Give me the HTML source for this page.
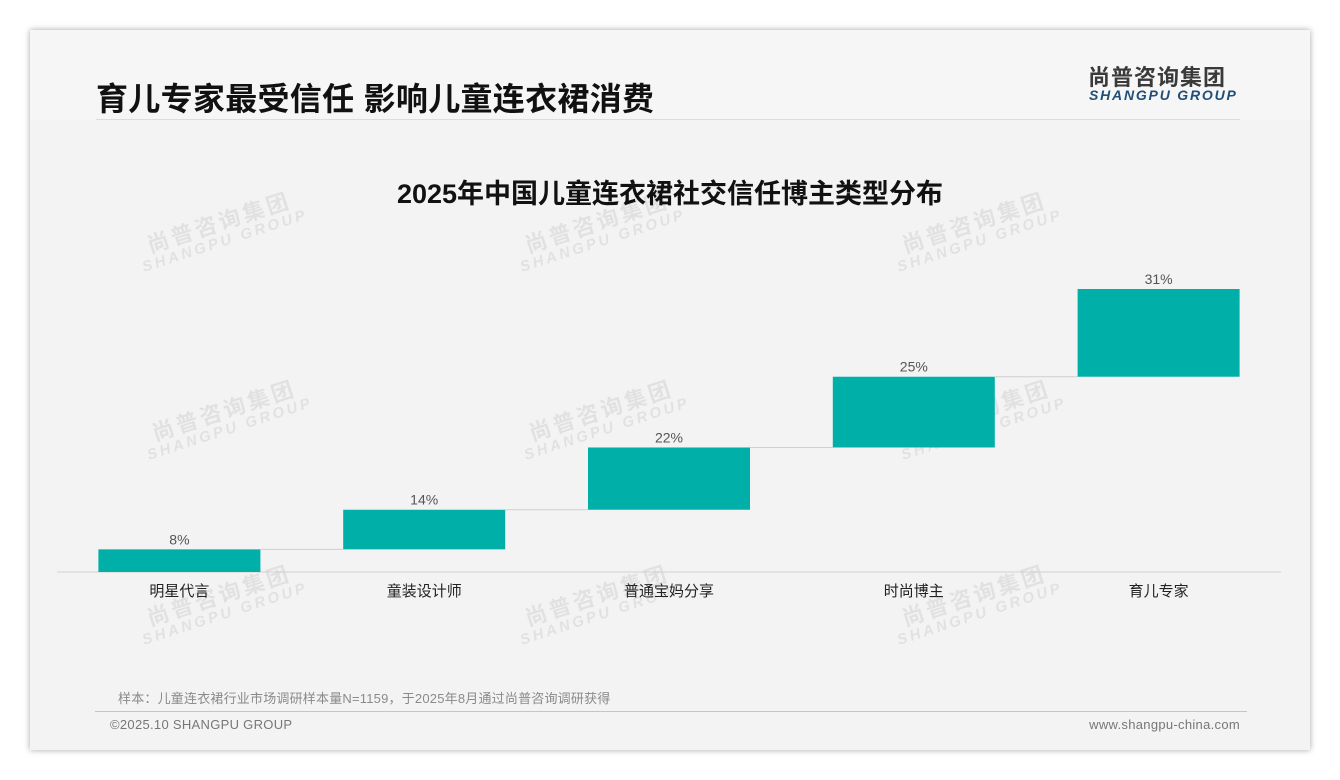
<!DOCTYPE html>
<html><head><meta charset="utf-8"><style>
html,body{margin:0;padding:0;background:#fff;width:1340px;height:780px;overflow:hidden;font-family:"Liberation Sans","Noto Sans CJK SC",sans-serif;}
#card{position:absolute;left:30px;top:30px;width:1280px;height:720px;background:#f3f3f3;box-shadow:0 0 6px rgba(0,0,0,0.35);overflow:hidden;}
#hdr{position:absolute;left:0;top:0;width:1280px;height:90px;background:#f6f6f6;}
.t{position:absolute;white-space:nowrap;}
.wm{position:absolute;transform:rotate(-18deg);color:rgba(0,0,0,0.07);font-weight:bold;line-height:1;text-align:center;}
.wm .a{font-size:22px;letter-spacing:3px;}
.wm .b{font-size:15px;letter-spacing:3px;font-style:italic;}
</style></head><body>
<div id="card">
<div id="hdr"></div>
<div class="t" style="left:66px;top:44px;font-size:32px;letter-spacing:0.3px;font-weight:bold;color:#111;">育儿专家最受信任 影响儿童连衣裙消费</div>
<div class="t" style="left:1058px;top:30px;font-size:22px;font-weight:bold;color:#3a3a3a;letter-spacing:1px;">尚普咨询集团</div>
<div class="t" style="left:1059px;top:57px;font-size:14px;font-weight:bold;font-style:italic;color:#1f4e79;letter-spacing:1.8px;">SHANGPU GROUP</div>
<div class="t" style="left:66px;top:89px;width:1144px;height:1px;background:#dcdcdc;"></div>
<div class="t" style="left:0;width:1280px;text-align:center;top:142px;font-size:27px;font-weight:bold;color:#111;">2025年中国儿童连衣裙社交信任博主类型分布</div>

<div class="wm" style="left:105px;top:182px"><div class="a">尚普咨询集团</div><div class="b">SHANGPU GROUP</div></div>
<div class="wm" style="left:483px;top:182px"><div class="a">尚普咨询集团</div><div class="b">SHANGPU GROUP</div></div>
<div class="wm" style="left:860px;top:182px"><div class="a">尚普咨询集团</div><div class="b">SHANGPU GROUP</div></div>
<div class="wm" style="left:110px;top:370px"><div class="a">尚普咨询集团</div><div class="b">SHANGPU GROUP</div></div>
<div class="wm" style="left:487px;top:370px"><div class="a">尚普咨询集团</div><div class="b">SHANGPU GROUP</div></div>
<div class="wm" style="left:864px;top:370px"><div class="a">尚普咨询集团</div><div class="b">SHANGPU GROUP</div></div>
<div class="wm" style="left:105px;top:555px"><div class="a">尚普咨询集团</div><div class="b">SHANGPU GROUP</div></div>
<div class="wm" style="left:483px;top:555px"><div class="a">尚普咨询集团</div><div class="b">SHANGPU GROUP</div></div>
<div class="wm" style="left:860px;top:555px"><div class="a">尚普咨询集团</div><div class="b">SHANGPU GROUP</div></div>

<svg id="chart" width="1280" height="720" style="position:absolute;left:0;top:0"></svg>

<div class="t" style="left:88px;top:658px;font-size:13px;letter-spacing:0.2px;color:#8a8a8a;">样本：儿童连衣裙行业市场调研样本量N=1159，于2025年8月通过尚普咨询调研获得</div>
<div class="t" style="left:65px;top:681px;width:1152px;height:1px;background:#b8c8d8;"></div>
<div class="t" style="left:80px;top:687px;font-size:13px;letter-spacing:0.3px;color:#777;">©2025.10 SHANGPU GROUP</div>
<div class="t" style="right:70px;top:687px;font-size:13px;letter-spacing:0.3px;color:#777;">www.shangpu-china.com</div>
</div>
<script>
const categories=["明星代言","童装设计师","普通宝妈分享","时尚博主","育儿专家"];
const values=[8,14,22,25,31];
const labels=["8%","14%","22%","25%","31%"];
const svg=document.getElementById('chart');
const NS='http://www.w3.org/2000/svg';
const x0=27,x1=1251,base=542,scale=2.83;
const band=(x1-x0)/categories.length,bw=162;
const y=v=>base-v*scale;
function mk(t,a){const e=document.createElementNS(NS,t);for(const k in a)e.setAttribute(k,a[k]);svg.appendChild(e);return e;}
const ax=mk('line',{x1:x0,x2:x1,y1:base,y2:base,stroke:'#d0d0d0','stroke-width':1});


let cum=0;
categories.forEach((c,i)=>{
  const cx=x0+band*(i+0.5);
  const top=cum+values[i];
  const r=mk('rect',{x:cx-bw/2,y:y(top),width:bw,height:y(cum)-y(top),fill:'#00b0a8'});
  
  
  if(i<categories.length-1){
    const ln=mk('line',{x1:cx+bw/2,x2:x0+band*(i+1.5)-bw/2,y1:y(top),y2:y(top),stroke:'#d0d0d0','stroke-width':1});
    
    
  }
  const vl=mk('text',{x:cx,y:y(top)-5,'text-anchor':'middle','font-size':14,fill:'#555','font-family':'Liberation Sans, sans-serif'});
  vl.textContent=labels[i];
  
  
  const cl=mk('text',{x:cx,y:base+24,'text-anchor':'middle','font-size':15,fill:'#222','font-family':'Liberation Sans, Noto Sans CJK SC, sans-serif'});
  cl.textContent=c;
  
  
  cum=top;
});
</script>
</body></html>
